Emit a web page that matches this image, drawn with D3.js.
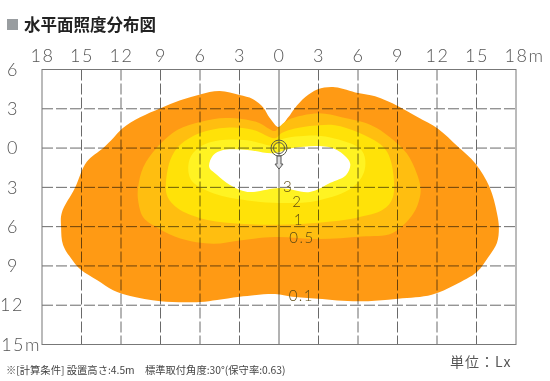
<!DOCTYPE html>
<html>
<head>
<meta charset="utf-8">
<script src="https://cdn.jsdelivr.net/npm/d3@7"></script>
<style>
  html, body { margin: 0; padding: 0; background: #fff; }
  svg { display: block; }
  text { font-family: "Lato", "Noto Sans", sans-serif; }
  .cjk { font-family: "Noto Sans CJK JP", sans-serif; }
</style>
</head>
<body>
<svg id="chart" width="550" height="381"></svg>
<script>
const xTicks = [-18, -15, -12, -9, -6, -3, 0, 3, 6, 9, 12, 15, 18]
const yTicks = [-6, -3, 0, 3, 6, 9, 12, 15]

// lux contours, metres from the lamp, y grows downward
const lux01 = [[0,-1.6],[-0.7,-2.3],[-1.2,-3.1],[-2,-3.75],[-3,-4.05],[-4.5,-4.35],[-6,-4.1],[-7.5,-3.65],[-9,-3.05],[-10.55,-2.35],[-11.9,-1.5],[-12.6,-0.75],[-13.35,0],[-14.6,1.05],[-15.5,3.05],[-16.5,4.95],[-16.55,6.05],[-16.4,7.4],[-15.7,8.55],[-15.05,9.3],[-13.8,10.1],[-12.6,10.85],[-11.3,11.3],[-9,11.7],[-6,11.75],[-4.7,11.6],[-3,11.35],[-0.3,11.15],[1,11.35],[2.95,11.5],[6,11.7],[9.05,11.5],[11.6,11.2],[13.35,10.45],[15.05,9.45],[15.85,8.4],[16.55,7.25],[16.7,6.1],[16.55,4.95],[16,3],[14.9,1.15],[13.6,-0.1],[12.05,-1.5],[10.55,-2.35],[9.05,-3.2],[7.3,-3.95],[6,-4.2],[4.25,-4.65],[2.95,-4.5],[2,-3.9],[1.2,-3.05],[0.7,-2.35]]
const lux05 = [[0,-1.6],[-0.3,-1.3],[-1.7,-2],[-4,-2.3],[-6,-2],[-7.7,-1.4],[-9.3,0],[-10.3,1.45],[-10.7,3],[-10.7,4],[-10.3,5.3],[-9.2,6.1],[-7.5,6.9],[-5,7.3],[-3,7.05],[-0.3,6.8],[3,6.95],[6.3,6.75],[8.6,6.5],[10.2,5],[10.7,3.75],[10.75,3],[10.45,1.9],[9.7,0.4],[8.4,-0.85],[7,-1.75],[4.75,-2.35],[3,-2.65],[0.7,-2.15]]
const lux1 = [[-0.3,-0.75],[-2,-1.4],[-4,-1.55],[-6,-1.15],[-7.5,-0.25],[-8.25,0.9],[-8.6,3],[-8.45,3.75],[-7.7,4.6],[-6,5.35],[-3.5,5.75],[-0.1,5.85],[3,5.7],[6,5.3],[7.9,4.7],[8.65,3.75],[8.5,1],[7.9,-0.1],[6,-1.2],[4.25,-1.75],[3,-1.75],[1.2,-1.5],[0.2,-1.15]]
const lux2 = [[-0.3,-0.2],[-2.4,-0.6],[-4.5,-0.6],[-6,-0.1],[-6.8,0.9],[-6.7,2.4],[-5,3.45],[-2.4,4],[0,4.2],[3,4],[5.6,3],[6.5,1.7],[6.3,0.2],[3.9,-0.8],[2.1,-0.95],[0,-0.6]]
const lux3 = [[-5.3,1.45],[-5,0.55],[-4.25,0.15],[-2.4,0.15],[-0.45,0.4],[1.05,0],[3.1,-0.15],[4.4,0.15],[5.4,1.15],[5.1,2.05],[3.9,2.65],[2.35,3.35],[0.05,3.05],[-2.4,3.35],[-3.75,2.8],[-4.7,2.05]]

const contours = [lux01, lux05, lux1, lux2, lux3]
const contourColors = ["#ff9a14", "#ffbe10", "#ffe208", "#fff322", "#ffffff"]

const luxLabels = ["3", "2", "1", "0.5", "0.1"]
const luxLabelX = [0.7, 1.4, 1.5, 1.75, 1.7]
const luxLabelY = [3.05, 4.25, 5.6, 7, 11.4]

const svg = d3.select("#chart")

const x = d3.scaleLinear().domain([-18, 18]).range([42, 516])
const y = d3.scaleLinear().domain([-6, 15]).range([69.5, 344.5])

const line = d3.line()
  .x(d => x(d[0]))
  .y(d => y(d[1]))
  .curve(d3.curveCatmullRomClosed.alpha(0.5))

svg.selectAll(".contour")
  .data(contours)
  .enter().append("path")
  .attr("class", "contour")
  .attr("d", line)
  .attr("fill", (_, i) => contourColors[i])

// grid goes over the fills and darkens them
const grid = svg.append("g").style("mix-blend-mode", "multiply")

grid.selectAll(".gridV")
  .data(xTicks.slice(1, -1).filter(d => d != 0))
  .enter().append("line")
  .attr("class", "gridV")
  .attr("x1", d => x(d)).attr("x2", d => x(d))
  .attr("y1", y(-6)).attr("y2", y(15))
  .attr("stroke", "#6a6a6a")
  .attr("stroke-dasharray", "11 3")

grid.selectAll(".gridH")
  .data(yTicks.slice(1, -1))
  .enter().append("line")
  .attr("class", "gridH")
  .attr("x1", x(-18)).attr("x2", x(18))
  .attr("y1", d => y(d)).attr("y2", d => y(d))
  .attr("stroke", "#6a6a6a")
  .attr("stroke-dasharray", "11 3")

grid.append("line")
  .attr("x1", x(0)).attr("x2", x(0))
  .attr("y1", y(-6)).attr("y2", y(15))
  .attr("stroke", "#666")

svg.append("rect")
  .attr("x", x(-18)).attr("y", y(-6))
  .attr("width", x(18) - x(-18)).attr("height", y(15) - y(-6))
  .attr("fill", "none")
  .attr("stroke", "#777")

const xAxis = d3.axisTop(x)
  .tickValues(xTicks)
  .tickSize(0)
  .tickPadding(8)
  .tickFormat(d => d == 18 ? "18m" : Math.abs(d))

svg.append("g")
  .attr("transform", `translate(0,${y(-6)})`)
  .call(xAxis)
  .call(g => g.select(".domain").remove())
  .call(g => g.selectAll("text")
    .attr("font-size", 18)
    .attr("font-family", "Lato")
    .attr("font-weight", 300)
    .attr("fill", "#555")
    .attr("letter-spacing", 1.5))
  // 18m is centred on its digits, not on the whole label
  .call(g => g.selectAll(".tick").filter(d => d == 18).select("text")
    .attr("text-anchor", "start").attr("x", -12))

const yAxis = d3.axisLeft(y)
  .tickValues(yTicks)
  .tickSize(0)
  .tickPadding(8)
  .tickFormat(d => d == 15 ? "15m" : Math.abs(d))

svg.append("g")
  .attr("transform", `translate(${x(-18)},0)`)
  .call(yAxis)
  .call(g => g.select(".domain").remove())
  .call(g => g.selectAll("text")
    .attr("font-size", 18)
    .attr("font-family", "Lato")
    .attr("font-weight", 300)
    .attr("fill", "#555")
    .attr("letter-spacing", 1.5)
    .attr("text-anchor", "end"))
  .call(g => g.selectAll(".tick").filter(d => d == 15).select("text").attr("x", -1))
  .call(g => g.selectAll(".tick").filter(d => d == 12).select("text").attr("x", -18))
  .call(g => g.selectAll(".tick").filter(d => d < 12).select("text").attr("x", -23))

svg.selectAll(".luxLabel")
  .data(luxLabels)
  .enter().append("text")
  .attr("class", "luxLabel")
  .attr("x", (_, i) => x(luxLabelX[i]))
  .attr("y", (_, i) => y(luxLabelY[i]))
  .attr("text-anchor", "middle")
  .attr("dominant-baseline", "middle")
  .attr("font-family", "Lato")
  .attr("font-weight", 300)
  .attr("font-size", 15)
  .attr("letter-spacing", 1.5)
  .attr("fill", "#5c4a12")
  .text(d => d)

// lamp symbol with its aiming arrow
const lamp = svg.append("g").attr("transform", `translate(${x(0)},${y(0)})`)

lamp.selectAll("circle")
  .data([8, 5.5])
  .enter().append("circle")
  .attr("r", d => d)
  .attr("fill", "none")
  .attr("stroke", "#5a5a4a")

lamp.append("path")
  .attr("d", "M-2,8V16H-4L0,21L4,16H2V8Z")
  .attr("fill", "#ddd")
  .attr("stroke", "#555")

svg.append("rect")
  .attr("x", 7).attr("y", 19)
  .attr("width", 11).attr("height", 11)
  .attr("fill", "#999da0")

svg.append("text")
  .attr("class", "cjk")
  .attr("x", 24).attr("y", 31)
  .attr("font-size", 16.5)
  .attr("font-weight", 700)
  .attr("fill", "#222")
  .text("水平面照度分布図")

svg.append("text")
  .attr("class", "cjk")
  .attr("x", 6).attr("y", 374)
  .attr("font-size", 10.3)
  .attr("fill", "#444")
  .text("※[計算条件] 設置高さ:4.5m　標準取付角度:30°(保守率:0.63)")

svg.append("text")
  .attr("class", "cjk")
  .attr("x", 450).attr("y", 367)
  .attr("font-size", 14)
  .attr("letter-spacing", 1)
  .attr("fill", "#555")
  .text("単位：Lx")
</script>
</body>
</html>
